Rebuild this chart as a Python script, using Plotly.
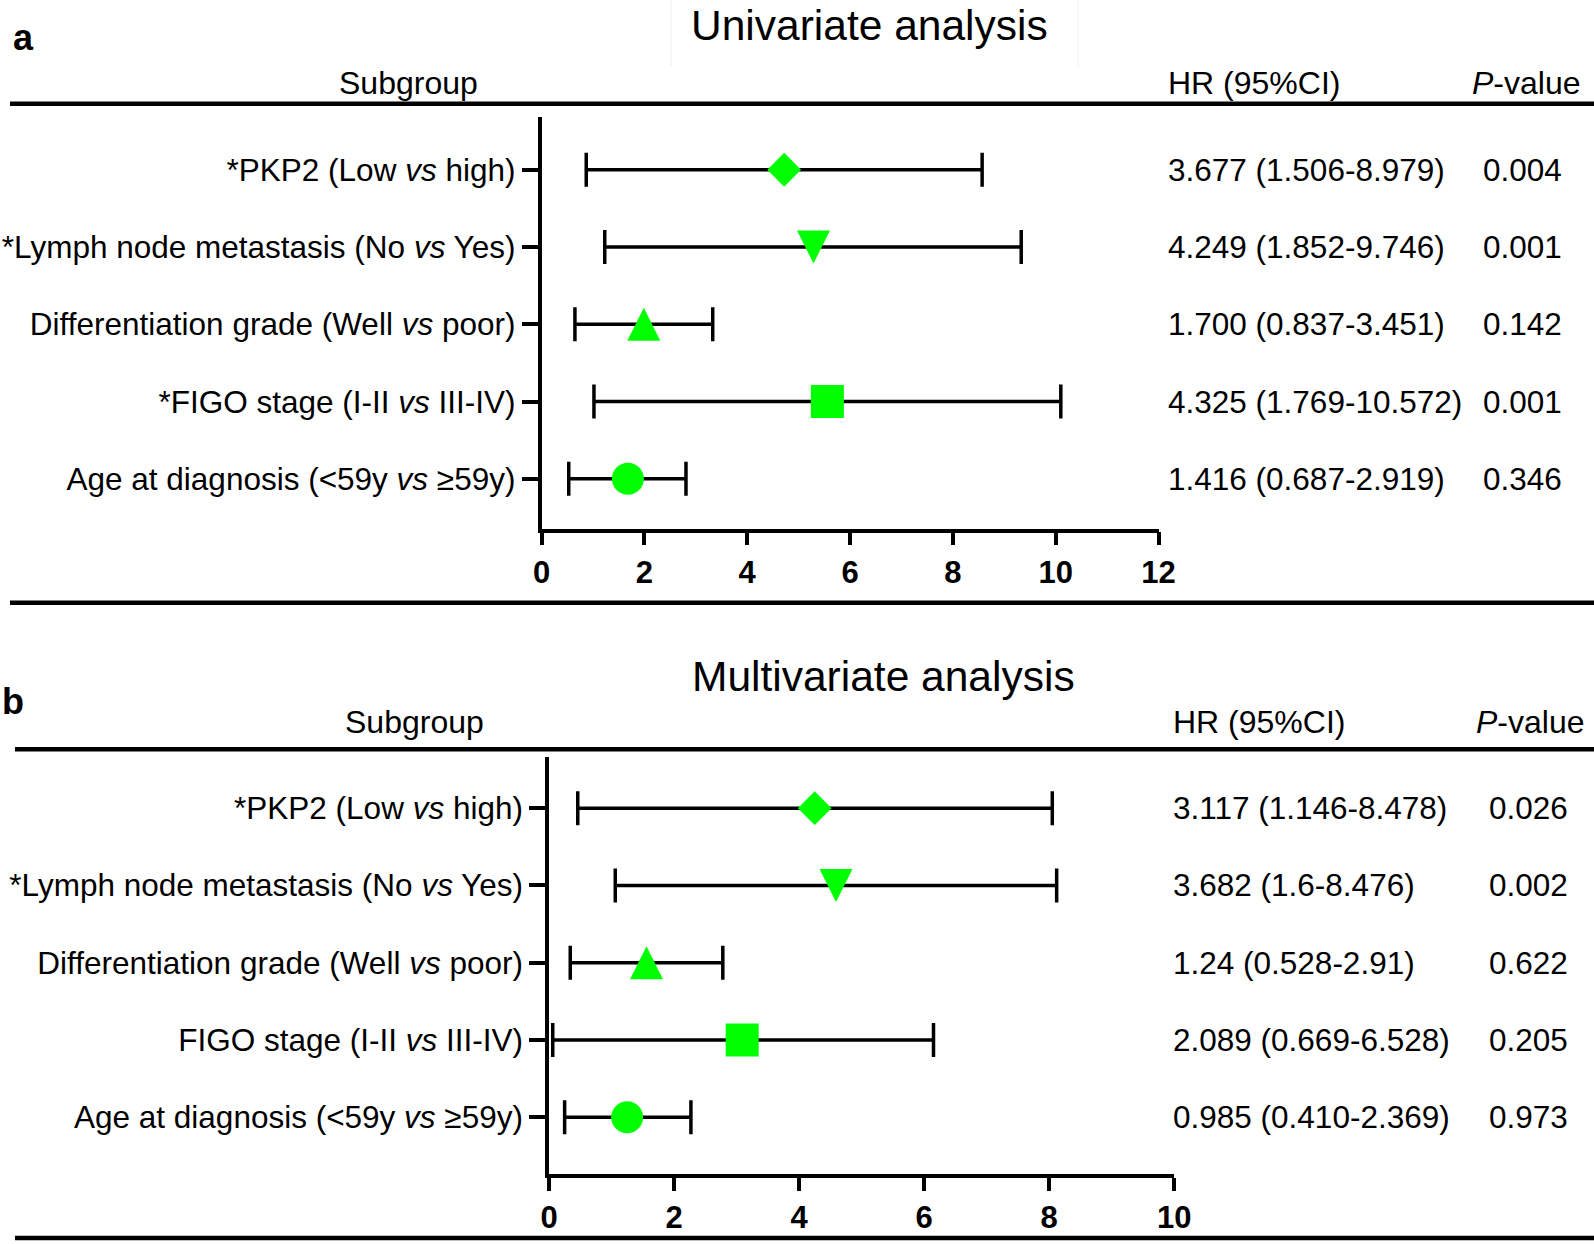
import plotly.graph_objects as go

# Row labels (top to bottom)
labels = [
    "*PKP2 (Low <i>vs</i> high)",
    "*Lymph node metastasis (No <i>vs</i> Yes)",
    "Differentiation grade (Well <i>vs</i> poor)",
    "*FIGO stage (I-II <i>vs</i> III-IV)",
    "Age at diagnosis (&lt;59y <i>vs</i> ≥59y)",
]
labels_b = [
    "*PKP2 (Low <i>vs</i> high)",
    "*Lymph node metastasis (No <i>vs</i> Yes)",
    "Differentiation grade (Well <i>vs</i> poor)",
    "FIGO stage (I-II <i>vs</i> III-IV)",
    "Age at diagnosis (&lt;59y <i>vs</i> ≥59y)",
]
rows = [5, 4, 3, 2, 1]

# Univariate (positions as drawn)
pt_a = [4.72, 5.29, 1.99, 5.56, 1.68]
lo_a = [0.87, 1.23, 0.65, 1.02, 0.53]
hi_a = [8.57, 9.33, 3.33, 10.10, 2.81]
hr_a = ["3.677 (1.506-8.979)", "4.249 (1.852-9.746)", "1.700 (0.837-3.451)",
        "4.325 (1.769-10.572)", "1.416 (0.687-2.919)"]
p_a = ["0.004", "0.001", "0.142", "0.001", "0.346"]

# Multivariate
pt_b = [4.25, 4.59, 1.56, 3.09, 1.25]
lo_b = [0.46, 1.06, 0.34, 0.06, 0.25]
hi_b = [8.05, 8.12, 2.78, 6.15, 2.27]
hr_b = ["3.117 (1.146-8.478)", "3.682 (1.6-8.476)", "1.24 (0.528-2.91)",
        "2.089 (0.669-6.528)", "0.985 (0.410-2.369)"]
p_b = ["0.026", "0.002", "0.622", "0.205", "0.973"]

W, H = 1594, 1244
FONT = "Liberation Sans, Arial, sans-serif"
GREEN = "#00ff00"

# marker style per row: symbol, size, angle, standoff
# (arrow symbols are used for the triangles so height == width, shifted to be centred)
styles = [
    ("diamond", 26, 0, 0),
    ("arrow-down", 33, 0, 16.5),
    ("arrow-down", 33, 180, 16.5),
    ("square", 33, 0, 0),
    ("circle", 32, 0, 0),
]


def px(x):
    return x / W


def py(y):
    return 1 - y / H


fig = go.Figure()


def add_panel(pt, lo, hi, xa, ya):
    for i in range(len(pt)):
        sym, sz, ang, so = styles[i]
        # error bar
        fig.add_trace(go.Scatter(
            x=[pt[i]], y=[rows[i]], mode="markers", xaxis=xa, yaxis=ya,
            marker=dict(size=1, color="rgba(0,0,0,0)"),
            error_x=dict(type="data", symmetric=False,
                         array=[hi[i] - pt[i]], arrayminus=[pt[i] - lo[i]],
                         color="black", thickness=3.5, width=17),
            showlegend=False, cliponaxis=False, hoverinfo="skip",
        ))
        fig.add_trace(go.Scatter(
            x=[pt[i]], y=[rows[i]], mode="markers", xaxis=xa, yaxis=ya,
            marker=dict(symbol=sym, size=sz, color=GREEN, angle=ang, standoff=so,
                        line=dict(width=0)),
            showlegend=False, cliponaxis=False,
        ))


add_panel(pt_a, lo_a, hi_a, "x", "y")
add_panel(pt_b, lo_b, hi_b, "x2", "y2")

xcommon = dict(showline=True, linecolor="black", linewidth=3.5, ticks="outside",
               ticklen=13, tickwidth=3.5, tickcolor="black", showgrid=False, zeroline=False,
               automargin=False,
               tickfont=dict(family=FONT, size=31, color="black", weight="bold"))
ycommon = dict(showline=True, linecolor="black", linewidth=3.5, ticks="outside",
               ticklen=16, tickwidth=3.5, tickcolor="black", showgrid=False, zeroline=False,
               automargin=False,
               tickvals=rows, tickfont=dict(family=FONT, size=31.5, color="black"))

fig.update_layout(
    width=W, height=H, margin=dict(l=0, r=0, t=0, b=0),
    paper_bgcolor="white", plot_bgcolor="white",
    xaxis=dict(domain=[px(541.5), px(1158.5)], range=[0, 12], tickvals=[0, 2, 4, 6, 8, 10, 12],
               anchor="y", **xcommon),
    yaxis=dict(domain=[py(528.6), py(117)], range=[0.355, 5.683], ticktext=labels,
               anchor="x", **ycommon),
    xaxis2=dict(domain=[px(549), px(1174.2)], range=[0, 10], tickvals=[0, 2, 4, 6, 8, 10],
                anchor="y2", **xcommon),
    yaxis2=dict(domain=[py(1174.2), py(757)], range=[0.262, 5.663], ticktext=labels_b,
                anchor="x2", **ycommon),
)

ann = []


def txt(text, x, y, size=32, xanchor="center", yanchor="middle", bold=False,
        xref="paper", yref="paper"):
    ann.append(dict(text=text, x=x, y=y, xref=xref, yref=yref, xanchor=xanchor,
                    yanchor=yanchor, showarrow=False,
                    font=dict(family=FONT, size=size, color="black",
                              weight="bold" if bold else "normal")))


# Panel a headers
txt("a", px(23), py(37.6), size=36, bold=True)
txt("Univariate analysis", px(869), 1.0, size=42.5, yanchor="top")
txt("Subgroup", px(408.7), py(83.4))
txt("HR (95%CI)", px(1253.5), py(83.4))
txt("<i>P</i>-value", px(1526), py(83.4))
for i in range(5):
    txt(hr_a[i], px(1166), rows[i], size=31.5, xanchor="left", yref="y")
    txt(p_a[i], px(1481), rows[i], size=31.5, xanchor="left", yref="y")

# Panel b headers
txt("b", px(13), py(701.5), size=36, bold=True)
txt("Multivariate analysis", px(883.4), py(676), size=42.5)
txt("Subgroup", px(414.8), py(721.8))
txt("HR (95%CI)", px(1258.5), py(721.8))
txt("<i>P</i>-value", px(1530), py(721.8))
for i in range(5):
    txt(hr_b[i], px(1171), rows[i], size=31.5, xanchor="left", yref="y2")
    txt(p_b[i], px(1487), rows[i], size=31.5, xanchor="left", yref="y2")

fig.update_layout(annotations=ann)

shapes = []


def hline(x0, x1, y, w=4.5, color="black"):
    shapes.append(dict(type="line", xref="paper", yref="paper", x0=px(x0), x1=px(x1),
                       y0=py(y), y1=py(y), line=dict(color=color, width=w)))


def vline(x, y0, y1, w=1, color="#eeeeee"):
    shapes.append(dict(type="line", xref="paper", yref="paper", x0=px(x), x1=px(x),
                       y0=py(y0), y1=py(y1), line=dict(color=color, width=w)))


hline(10, 1594, 103.7)
hline(10, 1594, 602.8)
hline(15, 1594, 749.2)
hline(15, 1594, 1238)
vline(671, 0, 66)
vline(1078, 0, 66)

fig.update_layout(shapes=shapes)

# drop the browser's default body margin so the figure sits at the page origin
fig.write_html("out.html", config={"displayModeBar": False},
               post_script="document.body.style.margin='0';")
